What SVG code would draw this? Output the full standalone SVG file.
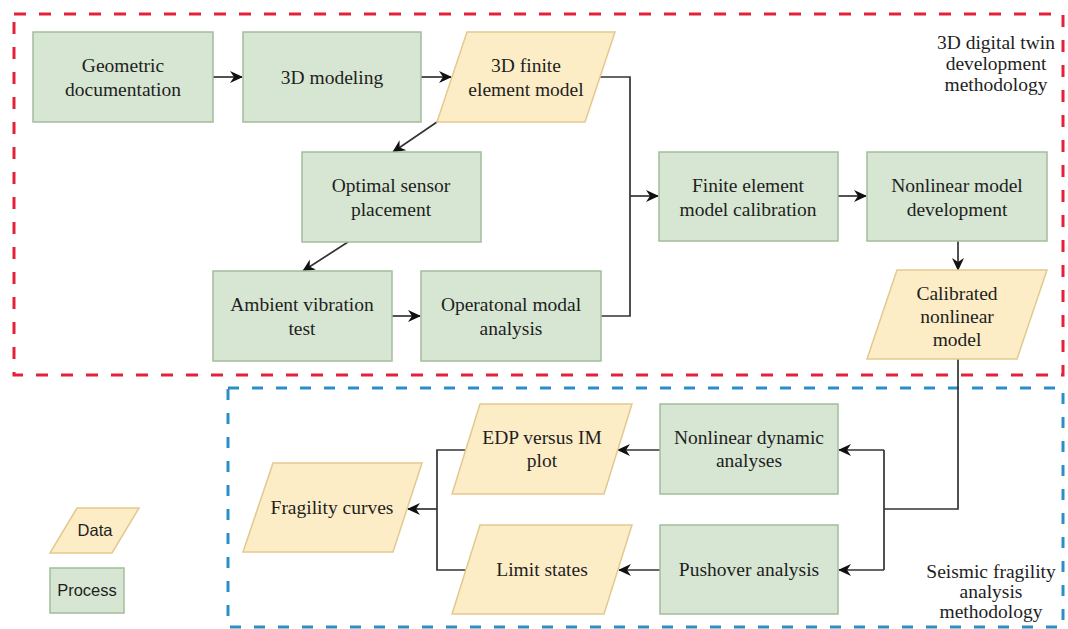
<svg xmlns="http://www.w3.org/2000/svg" width="1068" height="629" viewBox="0 0 1068 629">
<defs>
<marker id="arr" markerWidth="14" markerHeight="12" refX="12" refY="6" orient="auto" markerUnits="userSpaceOnUse">
<path d="M0,0 L13,6 L0,12 L4,6 z" fill="#111111"/>
</marker>
<style>
.proc{fill:#d6e6d2;stroke:#a3bd9c;stroke-width:1.5}
.data{fill:#fcedc6;stroke:#e2c98f;stroke-width:1.5}
.t{font-family:"Liberation Serif","Times New Roman",serif;font-size:19.5px;fill:#1e1e1e;text-anchor:middle}
.s{font-family:"Liberation Sans",Arial,sans-serif;font-size:16.5px;fill:#1e1e1e;text-anchor:middle}
.c{fill:none;stroke:#333333;stroke-width:1.7}
.ca{fill:none;stroke:#333333;stroke-width:1.7;marker-end:url(#arr)}
.red{fill:none;stroke:#e3213a;stroke-width:3;stroke-dasharray:12 13}
.blue{fill:none;stroke:#2b8fc6;stroke-width:3;stroke-dasharray:11 13}
</style>
</defs>
<rect width="1068" height="629" fill="#ffffff"/>
<g id="regions">
<rect class="red" x="14" y="14" width="1049" height="361"/>
<rect class="blue" x="228" y="388" width="835" height="239"/>
<text class="t" x="996" y="49">3D digital twin</text>
<text class="t" x="996" y="70">development</text>
<text class="t" x="996" y="91">methodology</text>
<text class="t" x="991" y="578">Seismic fragility</text>
<text class="t" x="991" y="598">analysis</text>
<text class="t" x="991" y="618">methodology</text>
</g>
<g id="connectors">
<path class="ca" d="M213,77 L242,77"/>
<path class="ca" d="M421,77 L451,77"/>
<path class="ca" d="M437,122 L393,152"/>
<path class="ca" d="M348,242 L303,271"/>
<path class="ca" d="M392,316 L420,316"/>
<path class="c" d="M600,77 L630,77 L630,316 L601,316"/>
<path class="ca" d="M630,196 L658,196"/>
<path class="ca" d="M838,196 L866,196"/>
<path class="ca" d="M958,241 L958,270"/>
<path class="c" d="M958,359 L958,509 L884,509"/>
<path class="c" d="M884,450 L884,570"/>
<path class="ca" d="M884,450 L839,450"/>
<path class="ca" d="M884,570 L839,570"/>
<path class="ca" d="M660,450 L618,450"/>
<path class="ca" d="M660,570 L619,570"/>
<path class="c" d="M465,450 L437,450 L437,570 L466,570"/>
<path class="ca" d="M437,509 L408,509"/>
</g>
<g id="geo">
<rect class="proc" x="33" y="32" width="180" height="90"/>
<text class="t" x="123" y="72">Geometric</text>
<text class="t" x="123" y="96">documentation</text>
</g>
<g id="model3d">
<rect class="proc" x="243" y="32" width="178" height="90"/>
<text class="t" x="332" y="84">3D modeling</text>
</g>
<g id="fem">
<polygon class="data" points="467,32 615,32 585,122 437,122"/>
<text class="t" x="526" y="72">3D finite</text>
<text class="t" x="526" y="96">element model</text>
</g>
<g id="sensor">
<rect class="proc" x="302" y="152" width="179" height="90"/>
<text class="t" x="391" y="192">Optimal sensor</text>
<text class="t" x="391" y="216">placement</text>
</g>
<g id="ambient">
<rect class="proc" x="213" y="271" width="179" height="90"/>
<text class="t" x="302" y="311">Ambient vibration</text>
<text class="t" x="302" y="335">test</text>
</g>
<g id="oma">
<rect class="proc" x="421" y="271" width="180" height="90"/>
<text class="t" x="511" y="311">Operatonal modal</text>
<text class="t" x="511" y="335">analysis</text>
</g>
<g id="calib">
<rect class="proc" x="659" y="152" width="179" height="89"/>
<text class="t" x="748" y="192">Finite element</text>
<text class="t" x="748" y="216">model calibration</text>
</g>
<g id="nldev">
<rect class="proc" x="867" y="152" width="180" height="89"/>
<text class="t" x="957" y="192">Nonlinear model</text>
<text class="t" x="957" y="216">development</text>
</g>
<g id="calibrated">
<polygon class="data" points="897,270 1047,270 1017,359 867,359"/>
<text class="t" x="957" y="300">Calibrated</text>
<text class="t" x="957" y="323">nonlinear</text>
<text class="t" x="957" y="346">model</text>
</g>
<g id="nda">
<rect class="proc" x="660" y="404" width="178" height="90"/>
<text class="t" x="749" y="444">Nonlinear dynamic</text>
<text class="t" x="749" y="467">analyses</text>
</g>
<g id="pushover">
<rect class="proc" x="660" y="525" width="178" height="89"/>
<text class="t" x="749" y="576">Pushover analysis</text>
</g>
<g id="edp">
<polygon class="data" points="480,404 632,404 604,494 452,494"/>
<text class="t" x="542" y="444">EDP versus IM</text>
<text class="t" x="542" y="467">plot</text>
</g>
<g id="limit">
<polygon class="data" points="480,525 632,525 604,614 452,614"/>
<text class="t" x="542" y="576">Limit states</text>
</g>
<g id="fragility">
<polygon class="data" points="273,463 422,463 393,552 243,552"/>
<text class="t" x="332" y="514">Fragility curves</text>
</g>
<g id="legend-data">
<polygon class="data" points="77,508 139,508 112,553 50,553"/>
<text class="s" x="95" y="536">Data</text>
</g>
<g id="legend-process">
<rect class="proc" x="50" y="568" width="74" height="45"/>
<text class="s" x="87" y="596">Process</text>
</g>
</svg>
